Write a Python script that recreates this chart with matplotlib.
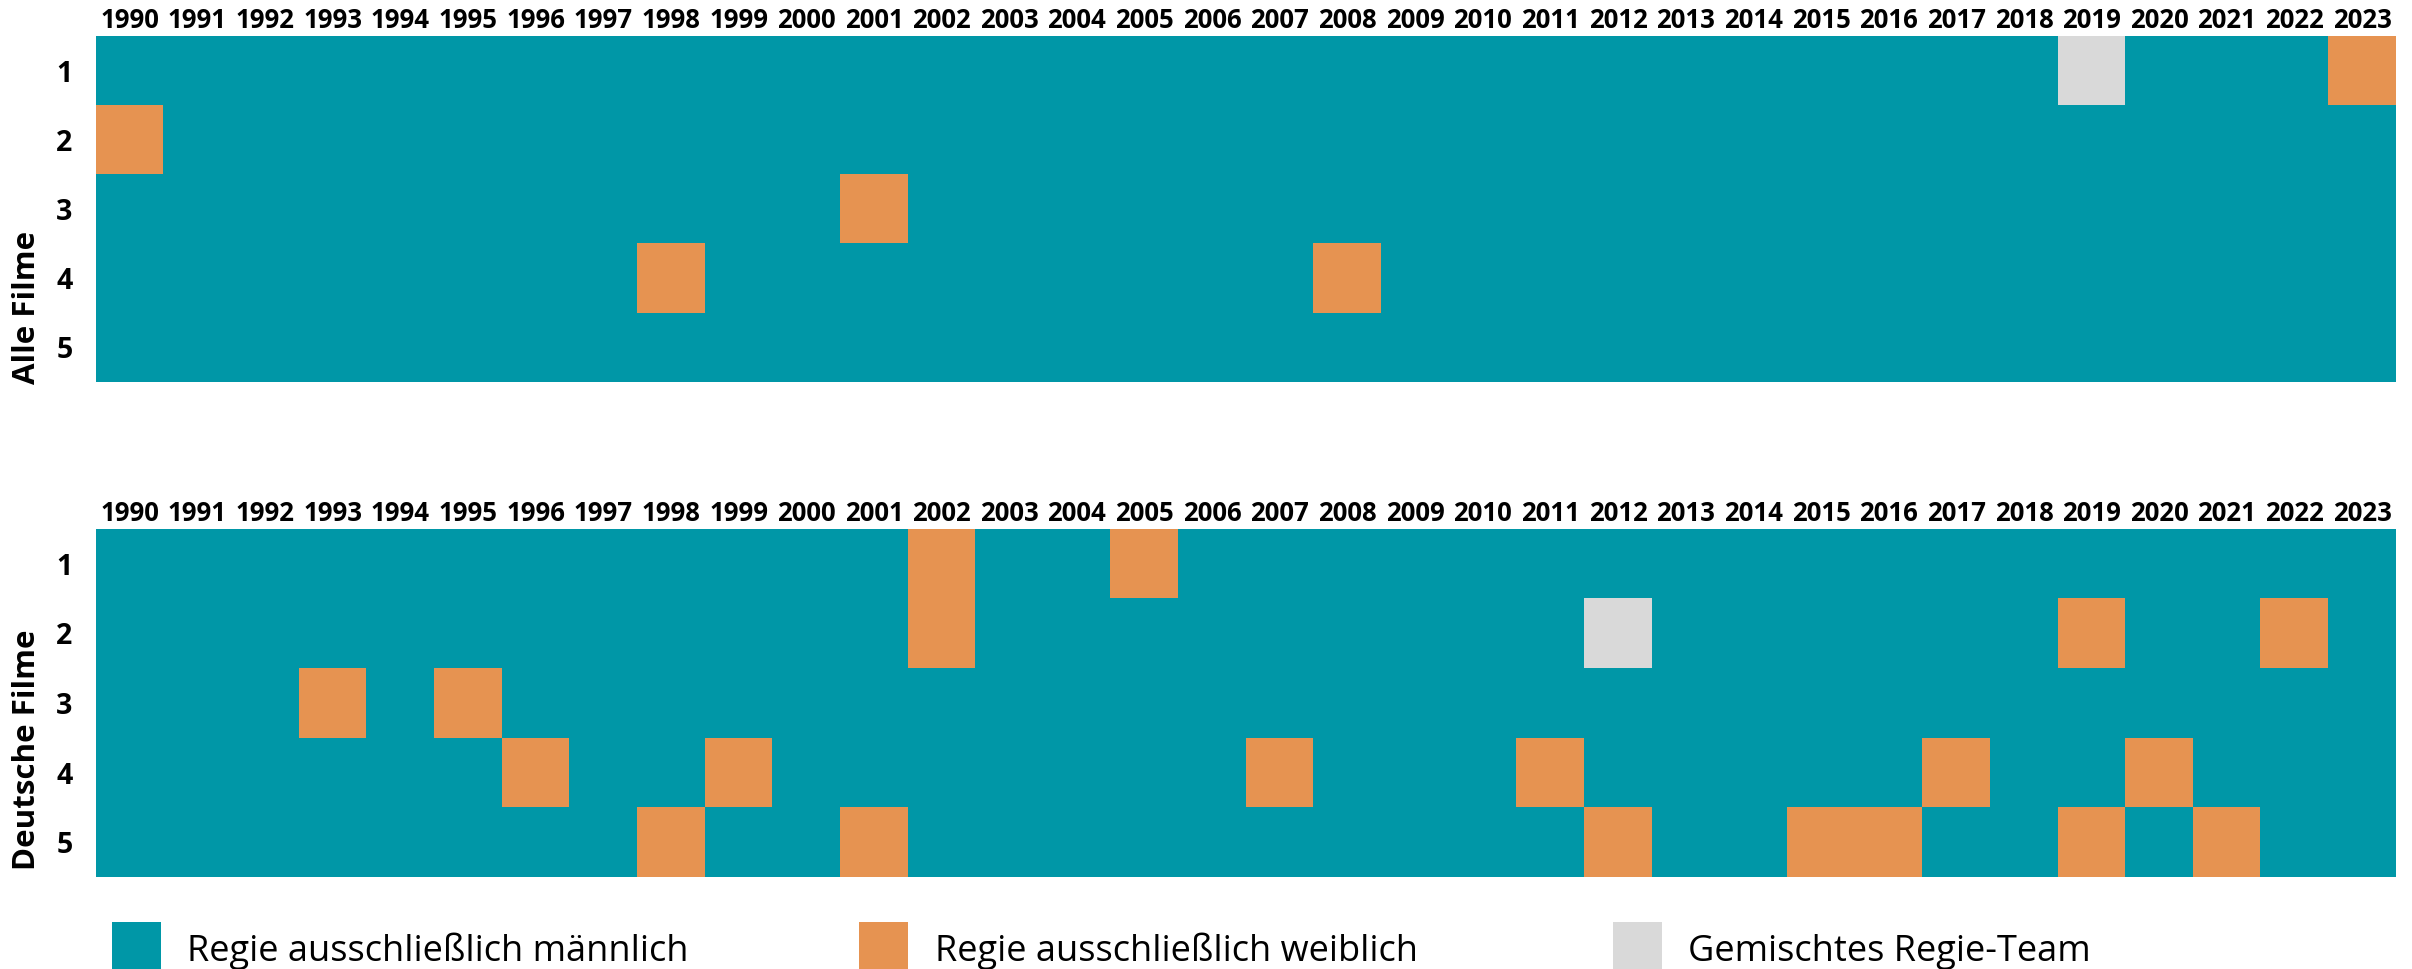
import numpy as np
import matplotlib
matplotlib.use("Agg")
import matplotlib.pyplot as plt
from matplotlib.colors import ListedColormap
from matplotlib.patches import Rectangle

plt.rcParams['font.family'] = ['Open Sans', 'DejaVu Sans']

# Jahre (Spalten) und Plätze (Zeilen)
years = list(range(1990, 2024))
plaetze = [1, 2, 3, 4, 5]

# Platz -> Jahre, in denen die Regie ausschließlich weiblich / gemischt war
alle_weiblich = {1: [2023], 2: [1990], 3: [2001], 4: [1998, 2008], 5: []}
alle_gemischt = {1: [2019]}
deutsch_weiblich = {1: [2002, 2005],
                    2: [2002, 2019, 2022],
                    3: [1993, 1995],
                    4: [1996, 1999, 2007, 2011, 2017, 2020],
                    5: [1998, 2001, 2012, 2015, 2016, 2019, 2021]}
deutsch_gemischt = {2: [2012]}

kategorien = ["Regie ausschließlich männlich",
              "Regie ausschließlich weiblich",
              "Gemischtes Regie-Team"]
farben = ["#0097A7", "#E69351", "#D9D9D9"]


def build_matrix(weiblich, gemischt):
    mat = np.zeros((len(plaetze), len(years)), dtype=int)
    for platz, jahre in weiblich.items():
        for j in jahre:
            mat[plaetze.index(platz), years.index(j)] = 1
    for platz, jahre in gemischt.items():
        for j in jahre:
            mat[plaetze.index(platz), years.index(j)] = 2
    return mat


W, H = 2412, 969
fig = plt.figure(figsize=(W / 100, H / 100), dpi=100)
cmap = ListedColormap(farben)

panels = [
    (build_matrix(alle_weiblich, alle_gemischt), 36, 382, "Alle Filme", 307),
    (build_matrix(deutsch_weiblich, deutsch_gemischt), 529, 877, "Deutsche Filme", 750),
]

for mat, top, bottom, title, ymid in panels:
    ax = fig.add_axes([96 / W, 1 - bottom / H, 2300 / W, (bottom - top) / H])
    ax.imshow(mat, cmap=cmap, vmin=0, vmax=2, aspect="auto",
              interpolation="nearest")
    ax.xaxis.tick_top()
    ax.set_xticks(range(len(years)))
    ax.set_xticklabels([str(y) for y in years], fontsize=18.5, fontweight="bold")
    ax.set_yticks(range(len(plaetze)))
    ax.set_yticklabels([str(p) for p in plaetze], fontsize=20.5, fontweight="bold")
    ax.tick_params(axis="x", length=0, pad=1.5)
    ax.tick_params(axis="y", length=0, pad=17)
    for s in ax.spines.values():
        s.set_visible(False)
    fig.text(27 / W, 1 - ymid / H, title, rotation=90, ha="center", va="center",
             fontsize=22.5, fontweight="bold")

# Legende
patch_x = [112, 859, 1613]
text_x = [187, 935, 1688]
for px, tx, lab, col in zip(patch_x, text_x, kategorien, farben):
    fig.add_artist(Rectangle((px / W, 0), 49 / W, (H - 922) / H,
                             transform=fig.transFigure, facecolor=col,
                             edgecolor="none"))
    fig.text(tx / W, (H - 961) / H, lab, ha="left", va="baseline", fontsize=26)

fig.savefig("out.png", dpi=100)
